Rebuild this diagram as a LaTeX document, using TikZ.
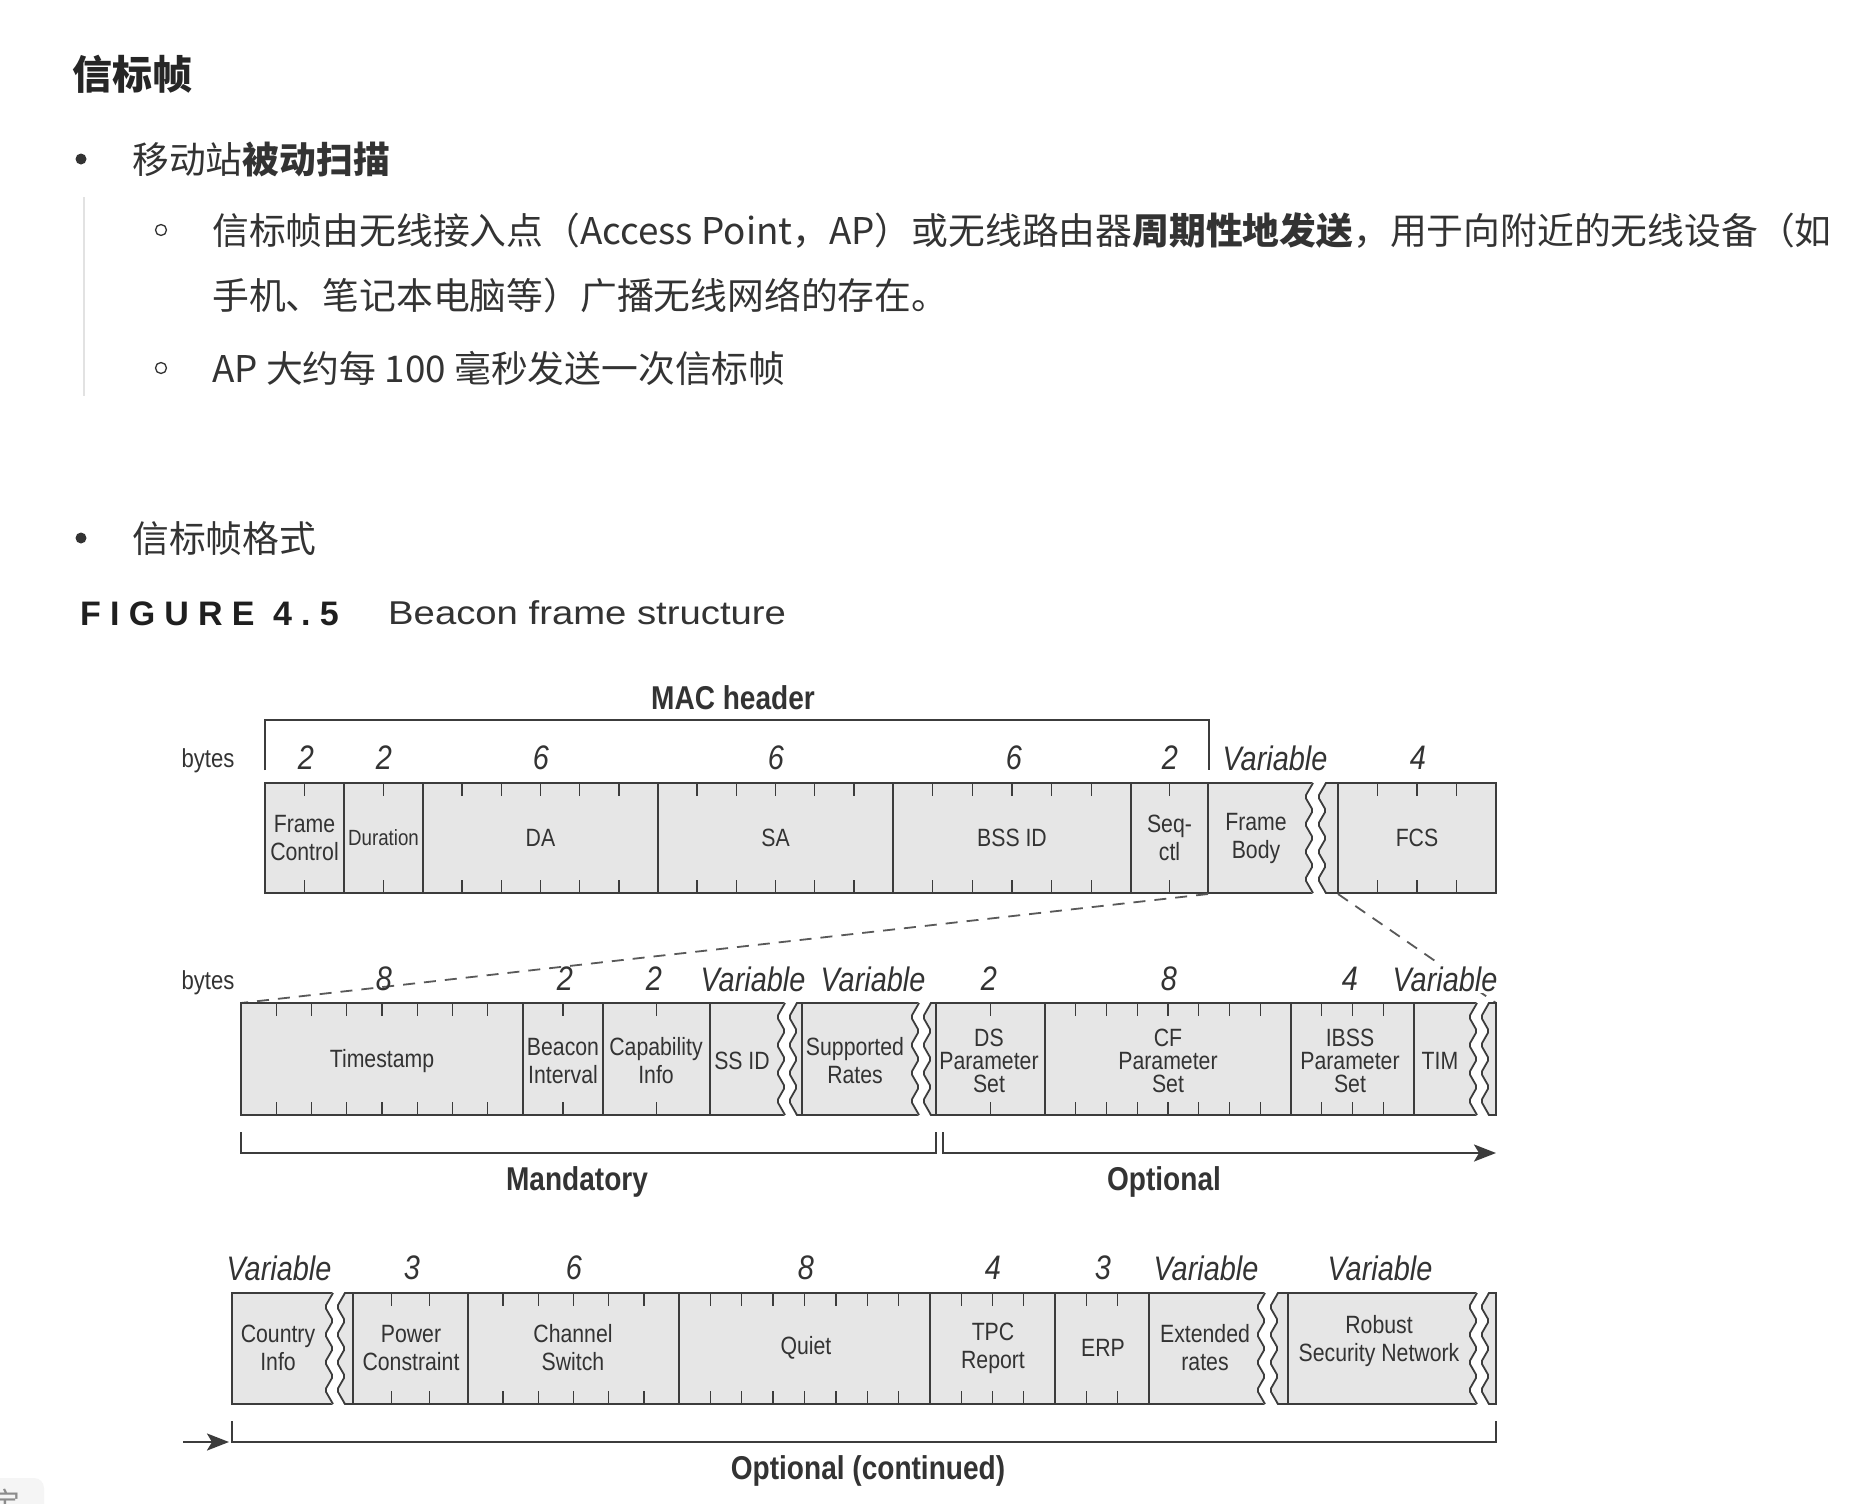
\documentclass[tikz,border=0pt]{standalone}
\usepackage{fontspec}
\usetikzlibrary{arrows.meta}
\setmainfont{Liberation Sans}
\newfontfamily\cjk{Noto Sans CJK SC}
\newfontfamily\cond[FakeStretch=0.85]{Liberation Sans}
\newfontfamily\capfont[FakeStretch=1.16]{Liberation Sans}
\newfontfamily\figfont[LetterSpace=27]{Liberation Sans}
\definecolor{txt}{HTML}{333333}
\definecolor{boxfill}{HTML}{E6E6E6}
\definecolor{ln}{HTML}{3C3C3C}
\definecolor{rule}{HTML}{E2E2E2}
\newcommand\zz[3]{({#1+4},{#2}) -- ({#1-4},{(#2)+0.125*((#3)-(#2))}) -- ({#1+4},{(#2)+0.25*((#3)-(#2))}) -- ({#1-4},{(#2)+0.375*((#3)-(#2))}) -- ({#1+4},{(#2)+0.5*((#3)-(#2))}) -- ({#1-4},{(#2)+0.625*((#3)-(#2))}) -- ({#1+4},{(#2)+0.75*((#3)-(#2))}) -- ({#1-4},{(#2)+0.875*((#3)-(#2))}) -- ({#1+4},{#3})}
\newcommand\brkmark[4]{%
  \fill[white,rounded corners=2pt] \zz{#1}{#3-2}{#4+2} -- \zz{#2}{#4+2}{#3-2} -- cycle;
  \draw[zzl] \zz{#1}{#3}{#4};
  \draw[zzl] \zz{#2}{#3}{#4};}
\newcommand\tickset[5]{%
  \pgfmathtruncatemacro\nn{#3-1}%
  \foreach \k in {1,...,\nn}{%
    \pgfmathsetmacro\xx{#1+(#2-#1)*\k/#3}%
    \draw[tk] (\xx,#4) -- ++(0,13) (\xx,#5) -- ++(0,-13);}}
\newcommand\divs[3]{\foreach \d in {#1}{\draw[fldline] (\d,#2) -- (\d,#3);}}
\tikzset{
  fld/.style={draw=ln, line width=1.8pt, fill=boxfill},
  fldline/.style={draw=ln, line width=1.8pt},
  zzl/.style={draw=ln, line width=1.8pt, rounded corners=2pt},
  tk/.style={draw=ln, line width=1.4pt},
  lbl/.style={font=\cond\fontsize{25}{28}\selectfont, text=txt, align=center, inner sep=0pt},
  lblt/.style={font=\cond\fontsize{25}{23}\selectfont, text=txt, align=center, inner sep=0pt},
  lbls/.style={font=\cond\fontsize{22}{24}\selectfont, text=txt, align=center, inner sep=0pt},
  num/.style={font=\cond\itshape\fontsize{34}{36}\selectfont, text=txt, inner sep=0pt},
  hd/.style={font=\cond\bfseries\fontsize{33}{36}\selectfont, text=txt, inner sep=0pt},
  byt/.style={font=\cond\fontsize{26}{28}\selectfont, text=txt, inner sep=0pt},
  brkt/.style={draw=ln, line width=2.4pt},
  dsh/.style={draw=ln!85, line width=1.8pt, dash pattern=on 12pt off 9pt},
  cn/.style={font=\cjk\fontsize{36.8}{40}\selectfont, text=txt, anchor=base west, inner sep=0pt},
}
\begin{document}
\begin{tikzpicture}[x=1pt,y=-1pt]
\fill[white] (0,0) rectangle (1872,1504);
\useasboundingbox (0,0) rectangle (1872,1504);

% ---------- text part ----------
\node[cn, font=\cjk\bfseries\fontsize{40}{44}\selectfont, text=black!85] (title) at (72,89) {信标帧};
\fill[txt] (81,159) circle (5.5);
\node[cn] (b1) at (132,173) {移动站\textbf{被动扫描}};
\draw[rule, line width=1.6pt] (84,197) -- (84,396);
\draw[txt, line width=1.3pt] (161,230) circle (5.5);
\node[cn] (s1) at (212,244) {信标帧由无线接入点（Access Point，AP）或无线路由器\textbf{周期性地发送}，用于向附近的无线设备（如};
\node[cn] (s1b) at (212,309) {手机、笔记本电脑等）广播无线网络的存在。};
\draw[txt, line width=1.3pt] (161,368) circle (5.5);
\node[cn] (s2) at (212,382) {AP 大约每 100 毫秒发送一次信标帧};
\fill[txt] (81,538) circle (5.5);
\node[cn] (b2) at (132,552) {信标帧格式};
\node[font=\figfont\bfseries\fontsize{34}{36}\selectfont, text=black!88, anchor=base west, inner sep=0pt] (fig) at (80,625) {FIGURE 4.5};
\node[font=\capfont\fontsize{33}{36}\selectfont, text=black!80, anchor=base west, inner sep=0pt] (cap) at (388,624) {Beacon frame structure};

% ---------- row 1 ----------
\node[hd] (mac) at (733,698) {MAC header};
\draw[brkt] (265,770) -- (265,720) -- (1209,720) -- (1209,770);
\node[byt] (by1) at (208,761) {bytes};
\draw[fld] (265,783) rectangle (1496,893);
\divs{344,423,658,893,1131,1208,1338}{783}{893}
\tickset{265}{344}{2}{783}{893}
\tickset{344}{423}{2}{783}{893}
\tickset{423}{658}{6}{783}{893}
\tickset{658}{893}{6}{783}{893}
\tickset{893}{1131}{6}{783}{893}
\tickset{1131}{1208}{2}{783}{893}
\tickset{1338}{1496}{4}{783}{893}
\brkmark{1309}{1322}{783}{893}
\foreach \x/\t in {306/2,384/2,541/6,776/6,1014/6,1170/2,1418/4}{\node[num] at (\x,758) {\t};}
\node[num] (v1) at (1275,758) {Variable};
\node[lbl] (fc) at (304.5,838) {Frame\\Control};
\node[lbls] (dur) at (383.5,838) {Duration};
\node[lbl] (da) at (540.5,838) {DA};
\node[lbl] (sa) at (775.5,838) {SA};
\node[lbl] (bss) at (1012,838) {BSS ID};
\node[lbl] (seq) at (1169.5,838) {Seq-\\ctl};
\node[lbl] (fb) at (1256,838) {Frame\\Body};
\node[lbl] (fcs) at (1417,838) {FCS};
\coordinate (fbL) at (1208,894);
\coordinate (fcsL) at (1338,894);

% ---------- row 2 ----------
\coordinate (r2L) at (241,1003);
\coordinate (r2R) at (1496,1003);
\draw[dsh] (fbL) -- (r2L);
\draw[dsh] (fcsL) -- (r2R);
\node[byt] (by2) at (208,983) {bytes};
\draw[fld] (241,1003) rectangle (1496,1115);
\divs{523,603,710,802,936,1045,1291,1414}{1003}{1115}
\tickset{241}{523}{8}{1003}{1115}
\tickset{523}{603}{2}{1003}{1115}
\tickset{603}{710}{2}{1003}{1115}
\tickset{936}{1045}{2}{1003}{1115}
\tickset{1045}{1291}{8}{1003}{1115}
\tickset{1291}{1414}{4}{1003}{1115}
\brkmark{781}{793}{1003}{1115}
\brkmark{915}{927}{1003}{1115}
\brkmark{1473}{1485}{1003}{1115}
\foreach \x/\t in {384/8,565/2,654/2,989/2,1169/8,1350/4}{\node[num] at (\x,979) {\t};}
\node[num] (v2a) at (753,979) {Variable};
\node[num] (v2b) at (873,979) {Variable};
\node[num, fill=white, inner sep=2pt] (v2c) at (1445,979) {Variable};
\node[lbl] (ts) at (382,1061) {Timestamp};
\node[lbl] (bi) at (563,1061) {Beacon\\Interval};
\node[lbl] (ci) at (656,1061) {Capability\\Info};
\node[lbl] (ssid) at (742,1061) {SS ID};
\node[lbl] (sr) at (855,1061) {Supported\\Rates};
\node[lblt] (ds) at (989,1061) {DS\\Parameter\\Set};
\node[lblt] (cf) at (1168,1061) {CF\\Parameter\\Set};
\node[lblt] (ibss) at (1350,1061) {IBSS\\Parameter\\Set};
\node[lbl] (tim) at (1440,1061) {TIM};
\draw[brkt] (241,1132) -- (241,1153) -- (936,1153) -- (936,1132);
\draw[brkt, -{Stealth[length=22pt,width=17pt,inset=5pt]}] (943,1132) -- (943,1153) -- (1496,1153);
\node[hd] (mand) at (577,1182) {Mandatory};
\node[hd] (opt) at (1164,1182) {Optional};

% ---------- row 3 ----------
\draw[fld] (232,1293) rectangle (1496,1404);
\divs{353,468,679,930,1055,1149,1288}{1293}{1404}
\tickset{353}{468}{3}{1293}{1404}
\tickset{468}{679}{6}{1293}{1404}
\tickset{679}{930}{8}{1293}{1404}
\tickset{930}{1055}{4}{1293}{1404}
\tickset{1055}{1149}{3}{1293}{1404}
\brkmark{329}{341}{1293}{1404}
\brkmark{1261}{1274}{1293}{1404}
\brkmark{1473}{1485}{1293}{1404}
\foreach \x/\t in {412/3,574/6,806/8,993/4,1103/3}{\node[num] at (\x,1268) {\t};}
\node[num] (v3a) at (279,1268) {Variable};
\node[num] (v3b) at (1206,1268) {Variable};
\node[num] (v3c) at (1380,1268) {Variable};
\node[lbl] (ctry) at (278,1348) {Country\\Info};
\node[lbl] (pc) at (411,1348) {Power\\Constraint};
\node[lbl] (chs) at (573,1348) {Channel\\Switch};
\node[lbl] (qt) at (806,1348) {Quiet};
\node[lbl] (tpc) at (993,1348) {TPC\\Report};
\node[lbl] (erp) at (1103,1348) {ERP};
\node[lbl] (ext) at (1205,1348) {Extended\\rates};
\node[lbl] (rsn) at (1379,1341) {Robust\\Security Network};
\draw[brkt] (232,1421) -- (232,1442) -- (1496,1442) -- (1496,1421);
\coordinate (inA) at (183,1442);
\coordinate (inB) at (229,1442);
\draw[brkt, -{Stealth[length=22pt,width=17pt,inset=5pt]}] (inA) -- (inB);
\node[hd] (optc) at (868,1471) {Optional (continued)};

% ---------- corner artefact ----------
\begin{scope}
\clip (0,0) rectangle (1872,1504);
\fill[black!4, rounded corners=10pt] (-20,1478) rectangle (44,1530);
\node[font=\cjk\fontsize{30}{30}\selectfont, text=black!45, anchor=base west, inner sep=0pt] (corner) at (-10,1514) {宝};
\end{scope}
\end{tikzpicture}
\end{document}
